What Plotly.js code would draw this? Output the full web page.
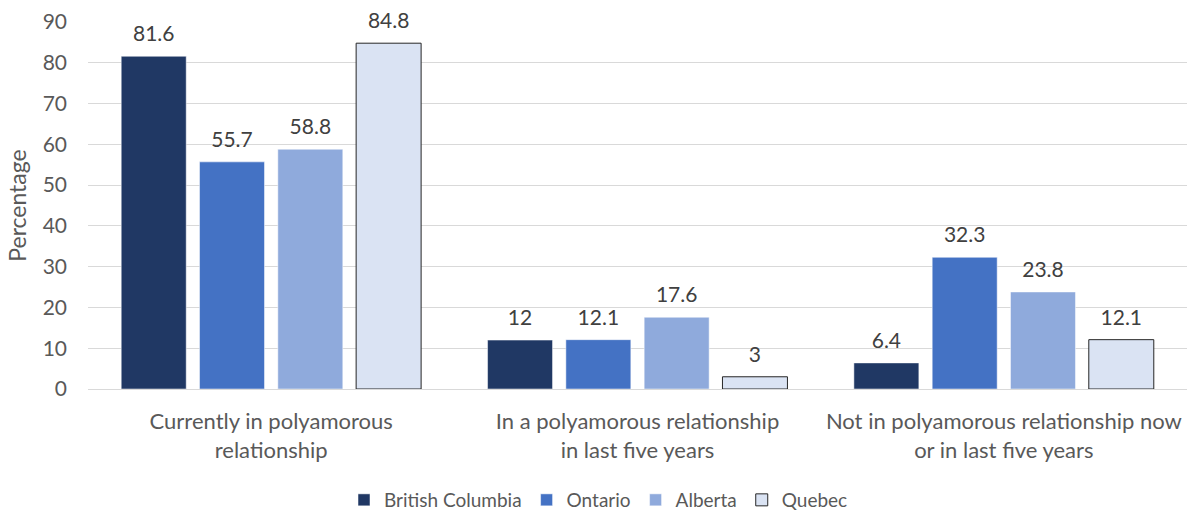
<!DOCTYPE html>
<html><head><meta charset="utf-8">
<script src="https://cdn.plot.ly/plotly-3.0.1.min.js"></script>
<style>html,body{margin:0;padding:0;background:#fff}#chart{width:1197px;height:513px}</style>
</head><body><div id="chart"></div>
<script>
const categories = ["Currently in polyamorous<br>relationship", "In a polyamorous relationship<br>in last five years", "Not in polyamorous relationship now<br>or in last five years"];
const seriesNames = ["British Columbia", "Ontario", "Alberta", "Quebec"];
const britishColumbia = [81.6, 12, 6.4];
const ontario = [55.7, 12.1, 32.3];
const alberta = [58.8, 17.6, 23.8];
const quebec = [84.8, 3, 12.1];
const yTicks = [0, 10, 20, 30, 40, 50, 60, 70, 80, 90];

const colors = ["#203864", "#4472C4", "#8FAADC", "#DAE3F3"];
const lines = ["#ffffff", "#ffffff", "#ffffff", "#262626"];
const values = [britishColumbia, ontario, alberta, quebec];
const FONT = "Lato, 'Open Sans', sans-serif";

const traces = values.map((v, i) => ({
  type: "bar", name: seriesNames[i], x: categories, y: v,
  text: v.map(String), textposition: "outside", cliponaxis: false,
  textfont: {family: FONT, size: 21, color: "#404040"},
  marker: {color: colors[i], line: {color: lines[i], width: i === 3 ? 1 : 0.5}}
}));

const layout = {
  width: 1197, height: 513,
  margin: {l: 88, r: 10, t: 22, b: 124},
  paper_bgcolor: "#fff", plot_bgcolor: "#fff",
  barmode: "group", bargap: 0.145, bargroupgap: 0.17,
  font: {family: FONT, color: "#595959", size: 21},
  xaxis: {showgrid: false, showline: true, linecolor: "#d9d9d9", linewidth: 1, ticks: "",
    tickfont: {size: 22, color: "#595959"}, ticklabelstandoff: 13},
  yaxis: {range: [0, 90], tickvals: yTicks, showgrid: true, gridcolor: "#d9d9d9", gridwidth: 1, zeroline: false, showline: false,
    ticks: "", tickfont: {size: 21, color: "#595959"}, ticklabelstandoff: 20,
    title: {text: "Percentage", font: {size: 23, color: "#595959"}, standoff: 9}},
  legend: {orientation: "h", x: 0.5, xanchor: "center", xref: "container", y: 13 / 513, yanchor: "middle", yref: "container",
    font: {size: 19, color: "#595959"}, itemwidth: 30, traceorder: "normal"},
  showlegend: true
};
Plotly.newPlot("chart", traces, layout, {displayModeBar: false, staticPlot: true}).then(gd => {
  gd.querySelectorAll("text.bartext").forEach(t => {
    const tr = t.getAttribute("transform") || "";
    t.setAttribute("transform", "translate(0,-8) " + tr);
  });
});
</script></body></html>
